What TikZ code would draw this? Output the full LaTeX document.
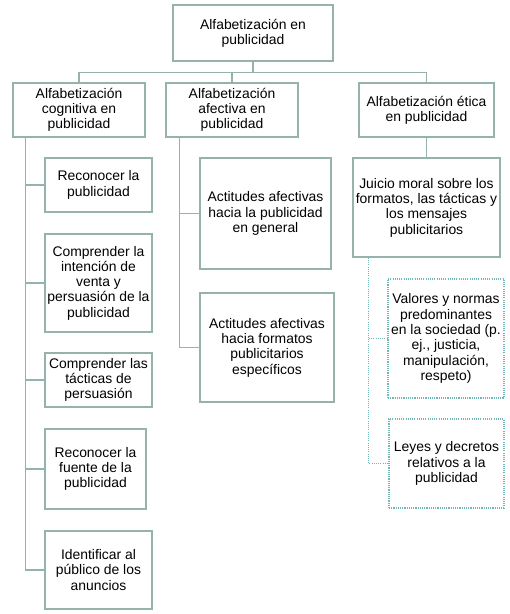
\documentclass[tikz,border=0pt]{standalone}
\usepackage{fontspec}
\setmainfont{Liberation Sans}
\usetikzlibrary{positioning}
\definecolor{linegray}{RGB}{150,178,172}
\definecolor{dotteal}{RGB}{115,182,182}
\begin{document}
\begin{tikzpicture}[
		x=1pt,y=-1pt,
		mybox/.style={draw=linegray,line width=1.4pt,align=center,inner sep=1pt,font=\fontsize{13.9}{15.3}\selectfont},
		dotbox/.style={mybox,draw=dotteal,line width=1.1pt,dash pattern=on 1.1pt off 1.1pt},
		myline/.style={draw=linegray,line width=1.4pt},
		dotline/.style={draw=dotteal,line width=1.1pt,dash pattern=on 1.1pt off 1.1pt}
		]
		\useasboundingbox (0,0) rectangle (510,614);
		\node[mybox,minimum width=160pt,minimum height=56pt] (alfa) at (253,33) {Alfabetización en\\publicidad};
		% second level
		\node[mybox,minimum width=132pt,minimum height=54pt] (cognitiva) at (79,110) {Alfabetización\\cognitiva en\\publicidad};
		\node[mybox,minimum width=132pt,minimum height=54pt] (afectiva) at (232,110) {Alfabetización\\afectiva en\\publicidad};
		\node[mybox,minimum width=135pt,minimum height=54pt] (etica) at (426.5,110) {Alfabetización ética\\en publicidad};
		% cognitiva
		\node[mybox,minimum width=107pt,minimum height=54pt] (reconocer) at (98.5,185) {Reconocer la\\publicidad};
		\node[mybox,minimum width=107pt,minimum height=98pt] (intencion) at (98.5,283) {Comprender la\\intención de\\venta y\\persuasión de la\\publicidad};
		\node[mybox,minimum width=107pt,minimum height=54pt] (tacticas) at (98.5,380) {Comprender las\\tácticas de\\persuasión};
		\node[mybox,minimum width=101pt,minimum height=80pt] (fuente) at (95.5,469) {Reconocer la\\fuente de la\\publicidad};
		\node[mybox,minimum width=107pt,minimum height=78pt] (publico) at (98.5,570) {Identificar al\\público de los\\anuncios};
		% afectiva
		\node[mybox,minimum width=131pt,minimum height=111pt] (general) at (265.5,213.5) {Actitudes afectivas\\hacia la publicidad\\en general};
		\node[mybox,minimum width=134pt,minimum height=109pt] (formatos) at (267,347.5) {Actitudes afectivas\\hacia formatos\\publicitarios\\específicos};
		% etica
		\node[mybox,minimum width=147pt,minimum height=99pt] (juicio) at (426.5,207.5) {Juicio moral sobre los\\formatos, las tácticas y\\los mensajes\\publicitarios};
		\node[dotbox,minimum width=116pt,minimum height=119pt] (valores) at (446,338.5) {Valores y normas\\predominantes\\en la sociedad (p.\\ej., justicia,\\manipulación,\\respeto)};
		\node[dotbox,minimum width=115pt,minimum height=89pt] (leyes) at (446.5,463.5) {Leyes y decretos\\relativos a la\\publicidad};
		% connectors
		\draw[myline] (alfa.south) -- ++(0,11) coordinate (bus);
		\draw[myline] (cognitiva.north) |- (bus) -| (etica.north);
		\draw[myline] (afectiva.north) -- (afectiva.north |- bus);
		\coordinate (cspine) at ([xshift=13pt]cognitiva.south west);
		\foreach \n in {reconocer,intencion,tacticas,fuente,publico}
			\draw[myline] (cspine) |- (\n.west);
		\coordinate (aspine) at ([xshift=14pt]afectiva.south west);
		\foreach \n in {general,formatos}
			\draw[myline] (aspine) |- (\n.west);
		\draw[myline] (etica.south) -- (juicio.north);
		\coordinate (espine) at ([xshift=16pt]juicio.south west);
		\foreach \n in {valores,leyes}
			\draw[dotline] (espine) |- (\n.west);
	\end{tikzpicture}
\end{document}
